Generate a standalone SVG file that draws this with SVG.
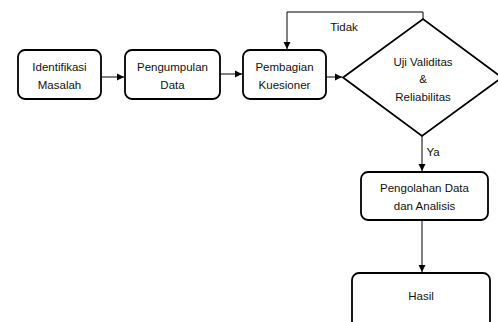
<svg xmlns="http://www.w3.org/2000/svg" width="498" height="322" viewBox="0 0 498 322">
<defs>
<marker id="ah" markerWidth="8" markerHeight="8" refX="7" refY="4" orient="auto" markerUnits="userSpaceOnUse">
<path d="M0,0.5 L7,4 L0,7.5 Z" fill="#000"/>
</marker>
<style>
.box{fill:#fff;stroke:#000;stroke-width:1.8}
.con{fill:none;stroke:#000;stroke-width:1}
text{font-family:"Liberation Sans",Arial,sans-serif;font-size:11.5px;fill:#111;text-anchor:middle}
</style>
</defs>
<rect width="498" height="322" fill="#fff"/>
<g id="connectors">
<line class="con" x1="101" y1="77" x2="124" y2="77" marker-end="url(#ah)"/>
<line class="con" x1="220" y1="74" x2="242" y2="74" marker-end="url(#ah)"/>
<line class="con" x1="326" y1="77" x2="342" y2="77" marker-end="url(#ah)"/>
<polyline class="con" points="423,19 423,12 287,12 287,49" marker-end="url(#ah)"/>
<text x="344" y="31">Tidak</text>
<line class="con" x1="422" y1="136" x2="422" y2="171" marker-end="url(#ah)"/>
<text x="433" y="156">Ya</text>
<line class="con" x1="422" y1="220" x2="422" y2="272" marker-end="url(#ah)"/>
</g>
<g id="identifikasi">
<rect class="box" x="18" y="50" width="83" height="49" rx="7"/>
<text x="59.5" y="71">Identifikasi</text>
<text x="59.5" y="89">Masalah</text>
</g>
<g id="pengumpulan">
<rect class="box" x="125" y="50" width="95" height="49" rx="7"/>
<text x="172.5" y="71">Pengumpulan</text>
<text x="172.5" y="89">Data</text>
</g>
<g id="pembagian">
<rect class="box" x="243" y="50" width="83" height="49" rx="7"/>
<text x="284.5" y="71">Pembagian</text>
<text x="284.5" y="89">Kuesioner</text>
</g>
<g id="uji">
<polygon class="box" points="343,77.5 423,19 502,77.5 422,136"/>
<text x="423" y="66">Uji Validitas</text>
<text x="423" y="83">&amp;</text>
<text x="423" y="101">Reliabilitas</text>
</g>
<g id="pengolahan">
<rect class="box" x="361" y="172" width="127" height="48" rx="7"/>
<text x="424.5" y="192">Pengolahan Data</text>
<text x="424.5" y="210">dan Analisis</text>
</g>
<g id="hasil">
<rect class="box" x="352" y="273" width="138" height="60" rx="7"/>
<text x="421" y="300">Hasil</text>
</g>
</svg>
